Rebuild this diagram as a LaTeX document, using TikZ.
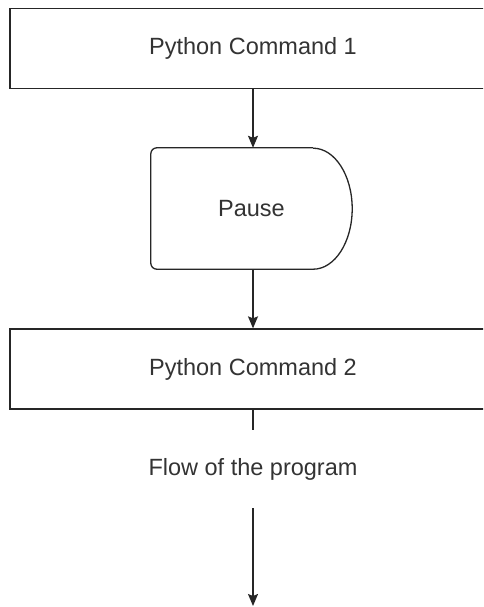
\documentclass[tikz,border=0pt]{standalone}
\usepackage{fontspec}
\setmainfont{Liberation Sans}
\usetikzlibrary{arrows.meta}
\begin{document}
\begin{tikzpicture}
[x=1pt,y=-1pt,
 cmdbox/.style={draw=black!85,line width=1.3pt,minimum width=486pt,minimum height=80pt,
   font=\fontsize{23.5}{28}\selectfont,text=black!80},
 pausebox/.style={minimum width=201pt,minimum height=121pt,font=\fontsize{23.5}{28}\selectfont,text=black!80},
 flowlabel/.style={minimum height=78pt,font=\fontsize{23.5}{28}\selectfont,text=black!80},
 flowline/.style={draw=black!85,line width=1.3pt},
 flowarrow/.style={flowline,-{Stealth[length=12pt,width=10pt,inset=2pt]}}]
%% page frame
\clip (0,0) rectangle (483,607);
%% the two commands and the pause
\node[cmdbox] (cmd1) at (253,48.5) {Python Command 1};
\node[pausebox] (pause) at (251.5,208.5) {Pause};
\node[cmdbox] (cmd2) at (253,369) {Python Command 2};
\node[flowlabel] (flow) at (253,469) {Flow of the program};
\coordinate (flowend) at (253,606);
%% delay shape round the pause
\draw[flowline,rounded corners=6pt] ([xshift=-39pt]pause.north east) -- (pause.north west)
  -- (pause.south west) -- ([xshift=-39pt]pause.south east);
\draw[flowline] ([xshift=-39pt]pause.south east)
  arc[start angle=-90,end angle=90,x radius=39pt,y radius=60.5pt];
%% connectors
\draw[flowarrow] (cmd1.south -| pause.north) ++(1.5,0) coordinate (a1) -- (a1 |- pause.north);
\draw[flowarrow] (pause.south) ++(1.5,0) coordinate (a2) -- (a2 |- cmd2.north);
\draw[flowline] (cmd2.south) -- (flow.north);
\draw[flowarrow] (flow.south) -- (flowend);
\end{tikzpicture}
\end{document}
